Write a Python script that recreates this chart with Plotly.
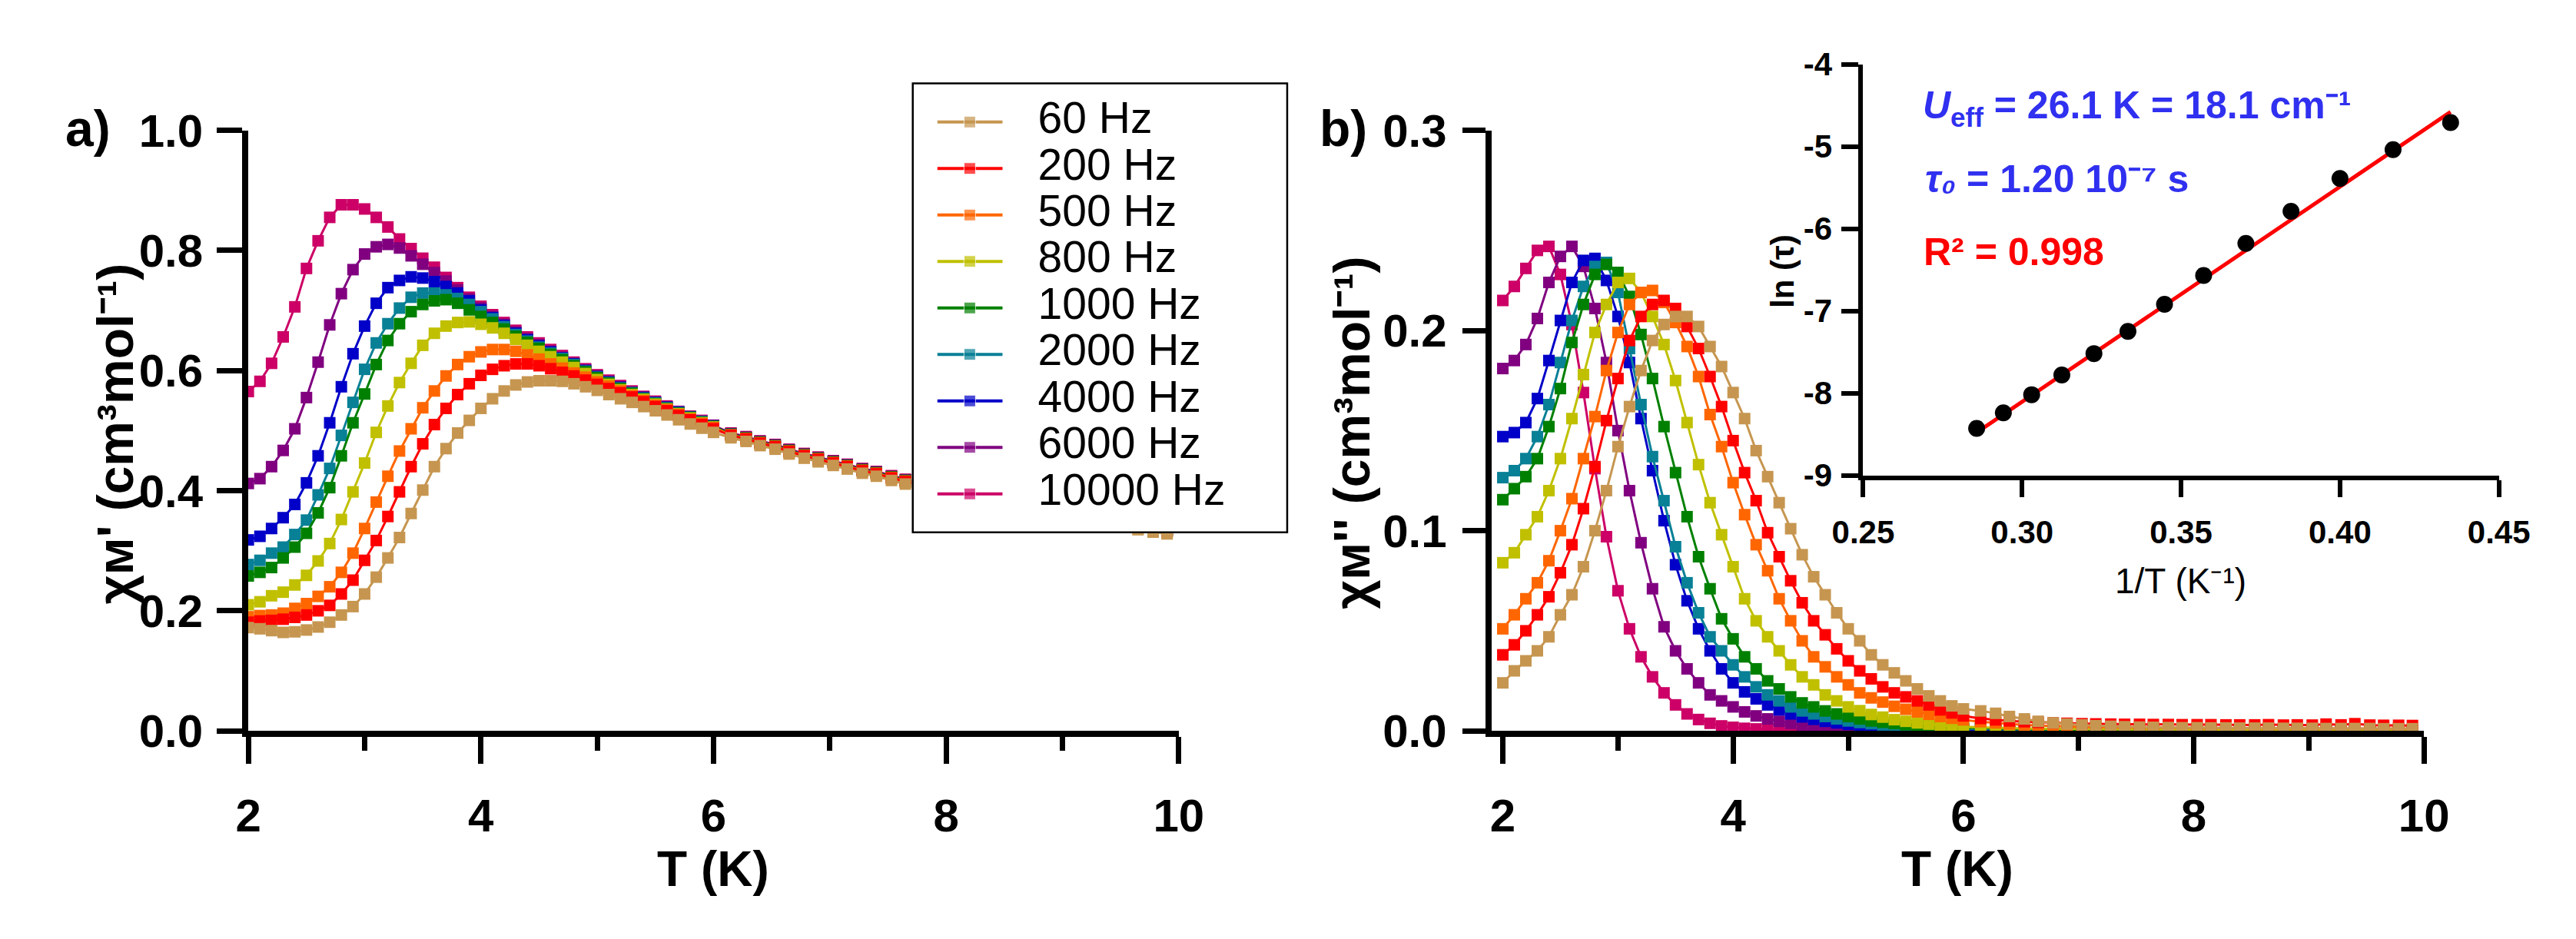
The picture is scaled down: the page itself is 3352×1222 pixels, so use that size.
import plotly.graph_objects as go

# ---------------- data ----------------
# temperature grid (K): 0.1 K steps up to 6 K, then ~0.125 K steps
temperature = [2.0, 2.1, 2.2, 2.3, 2.4, 2.5, 2.6, 2.7, 2.8, 2.9,
               3.0, 3.1, 3.2, 3.3, 3.4, 3.5, 3.6, 3.7, 3.8, 3.9,
               4.0, 4.1, 4.2, 4.3, 4.4, 4.5, 4.6, 4.7, 4.8, 4.9,
               5.0, 5.1, 5.2, 5.3, 5.4, 5.5, 5.6, 5.7, 5.8, 5.9,
               6.0,
               6.15, 6.28, 6.4, 6.53, 6.65, 6.78, 6.9, 7.03, 7.15, 7.28,
               7.4, 7.53, 7.65, 7.78, 7.9, 8.03, 8.15, 8.28, 8.4, 8.53,
               8.65, 8.78, 8.9, 9.03, 9.15, 9.28, 9.4, 9.53, 9.65, 9.78, 9.9]

freq_labels = ['60 Hz', '200 Hz', '500 Hz', '800 Hz', '1000 Hz',
               '2000 Hz', '4000 Hz', '6000 Hz', '10000 Hz']
freq_colors = ['#C69650', '#FF0000', '#FF6600', '#C0C000', '#008000',
               '#088096', '#0000C8', '#800080', '#CC0066']

# a) in-phase chi' (cm3 mol-1)
chi1_60 = [0.172, 0.170, 0.167, 0.164, 0.165, 0.168, 0.173, 0.181, 0.193, 0.207,
           0.228, 0.256, 0.288, 0.322, 0.362, 0.401, 0.440, 0.470, 0.496, 0.517,
           0.537, 0.553, 0.566, 0.576, 0.581, 0.583, 0.583, 0.582, 0.578, 0.573,
           0.567, 0.560, 0.553, 0.547, 0.540, 0.533, 0.526, 0.518, 0.511, 0.504,
           0.497,
           0.488, 0.482, 0.475, 0.469, 0.461, 0.454, 0.448, 0.442, 0.436, 0.429,
           0.424, 0.417, 0.411, 0.405, 0.399, 0.394, 0.388, 0.383, 0.378, 0.373,
           0.368, 0.364, 0.359, 0.355, 0.351, 0.347, 0.343, 0.339, 0.335, 0.331, 0.328]
chi1_200 = [0.181, 0.183, 0.184, 0.186, 0.189, 0.193, 0.200, 0.209, 0.228, 0.251,
            0.284, 0.317, 0.357, 0.398, 0.440, 0.478, 0.510, 0.537, 0.560, 0.578,
            0.592, 0.602, 0.608, 0.611, 0.611, 0.608, 0.603, 0.597, 0.591, 0.584,
            0.577, 0.570, 0.563, 0.556, 0.548, 0.540, 0.533, 0.525, 0.518, 0.510,
            0.503,
            0.492, 0.486, 0.479, 0.473, 0.465, 0.458, 0.452, 0.446, 0.440, 0.433,
            0.428, 0.421, 0.415, 0.409, 0.403, 0.398, 0.392, 0.387, 0.382, 0.377,
            0.372, 0.368, 0.363, 0.359, 0.355, 0.351, 0.347, 0.343, 0.339, 0.335, 0.332]
chi1_500 = [0.190, 0.192, 0.193, 0.196, 0.204, 0.212, 0.224, 0.240, 0.264, 0.296,
            0.337, 0.381, 0.424, 0.466, 0.503, 0.538, 0.566, 0.591, 0.610, 0.623,
            0.631, 0.635, 0.635, 0.632, 0.626, 0.619, 0.611, 0.604, 0.596, 0.589,
            0.581, 0.574, 0.566, 0.558, 0.550, 0.542, 0.535, 0.527, 0.519, 0.512,
            0.505,
            0.493, 0.487, 0.480, 0.474, 0.466, 0.459, 0.453, 0.447, 0.441, 0.434,
            0.429, 0.422, 0.416, 0.410, 0.404, 0.399, 0.393, 0.388, 0.383, 0.378,
            0.373, 0.369, 0.364, 0.360, 0.356, 0.352, 0.348, 0.344, 0.340, 0.336, 0.333]
chi1_800 = [0.210, 0.215, 0.225, 0.231, 0.243, 0.259, 0.283, 0.312, 0.352, 0.398,
            0.446, 0.497, 0.541, 0.580, 0.612, 0.642, 0.662, 0.674, 0.680, 0.681,
            0.677, 0.671, 0.662, 0.652, 0.642, 0.632, 0.623, 0.614, 0.605, 0.595,
            0.585, 0.577, 0.568, 0.560, 0.552, 0.544, 0.536, 0.528, 0.521, 0.513,
            0.506,
            0.491, 0.485, 0.478, 0.472, 0.464, 0.457, 0.451, 0.445, 0.439, 0.432,
            0.427, 0.420, 0.414, 0.408, 0.402, 0.397, 0.391, 0.386, 0.381, 0.376,
            0.371, 0.367, 0.362, 0.358, 0.354, 0.350, 0.346, 0.342, 0.337, 0.333, 0.330]
chi1_1000 = [0.258, 0.264, 0.272, 0.288, 0.306, 0.329, 0.363, 0.405, 0.458, 0.513,
             0.561, 0.610, 0.650, 0.678, 0.698, 0.710, 0.716, 0.718, 0.712, 0.701,
             0.690, 0.680, 0.669, 0.657, 0.647, 0.637, 0.627, 0.618, 0.608, 0.598,
             0.588, 0.579, 0.570, 0.562, 0.553, 0.545, 0.537, 0.529, 0.522, 0.514,
             0.507,
             0.494, 0.488, 0.481, 0.475, 0.467, 0.460, 0.454, 0.448, 0.442, 0.435,
             0.430, 0.423, 0.417, 0.411, 0.405, 0.400, 0.394, 0.389, 0.384, 0.379,
             0.374, 0.370, 0.365, 0.361, 0.357, 0.353, 0.349, 0.345, 0.341, 0.337, 0.334]
chi1_2000 = [0.277, 0.284, 0.296, 0.306, 0.327, 0.351, 0.393, 0.437, 0.492, 0.547,
             0.602, 0.646, 0.678, 0.704, 0.722, 0.729, 0.729, 0.726, 0.720, 0.710,
             0.698, 0.686, 0.673, 0.660, 0.649, 0.639, 0.629, 0.620, 0.610, 0.599,
             0.589, 0.580, 0.571, 0.563, 0.554, 0.546, 0.538, 0.530, 0.522, 0.515,
             0.507,
             0.493, 0.487, 0.480, 0.474, 0.466, 0.459, 0.453, 0.447, 0.441, 0.434,
             0.429, 0.422, 0.416, 0.410, 0.404, 0.399, 0.393, 0.388, 0.383, 0.378,
             0.373, 0.369, 0.364, 0.360, 0.356, 0.352, 0.348, 0.344, 0.340, 0.336, 0.333]
chi1_4000 = [0.318, 0.324, 0.337, 0.355, 0.377, 0.413, 0.458, 0.513, 0.573, 0.628,
             0.674, 0.712, 0.738, 0.750, 0.756, 0.754, 0.748, 0.740, 0.729, 0.716,
             0.701, 0.688, 0.675, 0.662, 0.651, 0.641, 0.631, 0.621, 0.611, 0.600,
             0.590, 0.581, 0.572, 0.563, 0.555, 0.547, 0.539, 0.531, 0.523, 0.515,
             0.508,
             0.494, 0.488, 0.481, 0.475, 0.467, 0.460, 0.454, 0.448, 0.442, 0.435,
             0.430, 0.423, 0.417, 0.411, 0.405, 0.400, 0.394, 0.389, 0.384, 0.379,
             0.374, 0.370, 0.365, 0.361, 0.357, 0.353, 0.349, 0.345, 0.341, 0.337, 0.334]
chi1_6000 = [0.412, 0.420, 0.440, 0.467, 0.503, 0.555, 0.614, 0.676, 0.728, 0.768,
             0.794, 0.806, 0.810, 0.804, 0.791, 0.777, 0.763, 0.749, 0.734, 0.719,
             0.704, 0.690, 0.677, 0.664, 0.653, 0.643, 0.632, 0.622, 0.612, 0.601,
             0.591, 0.582, 0.573, 0.564, 0.556, 0.547, 0.539, 0.531, 0.523, 0.516,
             0.508,
             0.495, 0.489, 0.482, 0.476, 0.468, 0.461, 0.455, 0.449, 0.443, 0.436,
             0.431, 0.424, 0.418, 0.412, 0.406, 0.401, 0.395, 0.390, 0.385, 0.380,
             0.375, 0.371, 0.366, 0.362, 0.358, 0.354, 0.350, 0.346, 0.342, 0.338, 0.335]
chi1_10000 = [0.565, 0.582, 0.612, 0.656, 0.706, 0.770, 0.816, 0.855, 0.876, 0.876,
              0.869, 0.855, 0.839, 0.819, 0.803, 0.787, 0.772, 0.755, 0.738, 0.722,
              0.707, 0.693, 0.680, 0.667, 0.656, 0.646, 0.635, 0.625, 0.614, 0.603,
              0.593, 0.584, 0.575, 0.566, 0.557, 0.549, 0.541, 0.532, 0.524, 0.517,
              0.509,
              0.496, 0.490, 0.483, 0.477, 0.469, 0.462, 0.456, 0.450, 0.444, 0.437,
              0.432, 0.425, 0.419, 0.413, 0.407, 0.402, 0.396, 0.391, 0.386, 0.381,
              0.376, 0.372, 0.367, 0.363, 0.359, 0.355, 0.351, 0.347, 0.343, 0.339, 0.336]

# b) out-of-phase chi'' (cm3 mol-1)
chi2_60 = [0.024, 0.030, 0.035, 0.040, 0.047, 0.058, 0.068, 0.082, 0.100, 0.120,
           0.142, 0.162, 0.180, 0.195, 0.203, 0.207, 0.207, 0.202, 0.192, 0.182,
           0.169, 0.156, 0.140, 0.127, 0.114, 0.101, 0.088, 0.077, 0.068, 0.059,
           0.051, 0.045, 0.038, 0.033, 0.029, 0.025, 0.021, 0.0175, 0.015, 0.0125,
           0.011,
           0.0100, 0.0088, 0.0072, 0.0060, 0.0048, 0.0040, 0.0034, 0.0030, 0.0026, 0.0023,
           0.0021, 0.0019, 0.0018, 0.0017, 0.0016, 0.0016, 0.0015, 0.0015, 0.0014, 0.0014,
           0.0014, 0.0013, 0.0013, 0.0013, 0.0012, 0.0012, 0.0012, 0.0012, 0.0011, 0.0011, 0.0011]
chi2_200 = [0.038, 0.043, 0.050, 0.058, 0.067, 0.079, 0.093, 0.111, 0.132, 0.155,
            0.176, 0.195, 0.207, 0.213, 0.215, 0.211, 0.202, 0.191, 0.177, 0.162,
            0.145, 0.129, 0.115, 0.099, 0.087, 0.075, 0.064, 0.055, 0.048, 0.041,
            0.035, 0.030, 0.026, 0.022, 0.019, 0.017, 0.015, 0.013, 0.0105, 0.009,
            0.0075,
            0.0062, 0.0055, 0.0050, 0.0046, 0.0043, 0.0040, 0.0038, 0.0036, 0.0035, 0.0034,
            0.0033, 0.0033, 0.0032, 0.0032, 0.0031, 0.0031, 0.0031, 0.0030, 0.0030, 0.0030,
            0.0031, 0.0029, 0.0030, 0.0029, 0.0034, 0.0030, 0.0036, 0.0029, 0.0028, 0.0028, 0.0027]
chi2_500 = [0.051, 0.058, 0.066, 0.074, 0.085, 0.100, 0.116, 0.136, 0.157, 0.180,
            0.199, 0.213, 0.219, 0.220, 0.214, 0.204, 0.192, 0.177, 0.158, 0.142,
            0.124, 0.108, 0.093, 0.080, 0.066, 0.055, 0.045, 0.037, 0.032, 0.027,
            0.023, 0.019, 0.0165, 0.0144, 0.0123, 0.0108, 0.0095, 0.0083, 0.0072, 0.0063,
            0.0055,
            0.0046, 0.0040, 0.0034, 0.0030, 0.0027, 0.0024, 0.0022, 0.0020, 0.0019, 0.0018,
            0.0017, 0.0016, 0.0016, 0.0015, 0.0015, 0.0014, 0.0014, 0.0014, 0.0013, 0.0013,
            0.0013, 0.0013, 0.0012, 0.0012, 0.0012, 0.0012, 0.0011, 0.0011, 0.0011, 0.0011, 0.0011]
chi2_800 = [0.084, 0.089, 0.098, 0.107, 0.120, 0.136, 0.156, 0.178, 0.199, 0.213,
            0.224, 0.226, 0.219, 0.207, 0.193, 0.175, 0.154, 0.133, 0.114, 0.098,
            0.082, 0.066, 0.055, 0.047, 0.040, 0.033, 0.027, 0.023, 0.018, 0.015,
            0.012, 0.0101, 0.0082, 0.0069, 0.0056, 0.0048, 0.0040, 0.0034, 0.0029, 0.0025,
            0.0021,
            0.0018, 0.0015, 0.0013, 0.0012, 0.0011, 0.0010, 0.0009, 0.0009, 0.0008, 0.0008,
            0.0008, 0.0007, 0.0007, 0.0007, 0.0007, 0.0006, 0.0006, 0.0006, 0.0006, 0.0006,
            0.0005, 0.0005, 0.0005, 0.0005, 0.0005, 0.0005, 0.0004, 0.0004, 0.0004, 0.0004, 0.0004]
chi2_1000 = [0.1155, 0.121, 0.127, 0.136, 0.152, 0.171, 0.194, 0.213, 0.228, 0.233,
             0.229, 0.217, 0.198, 0.176, 0.152, 0.129, 0.107, 0.087, 0.071, 0.056,
             0.046, 0.037, 0.031, 0.025, 0.021, 0.017, 0.014, 0.012, 0.010, 0.0085,
             0.0072, 0.0060, 0.0050, 0.0043, 0.0037, 0.0031, 0.0027, 0.0023, 0.0020, 0.0018,
             0.0016,
             0.0014, 0.0012, 0.0010, 0.0009, 0.0008, 0.0007, 0.0007, 0.0006, 0.0006, 0.0005,
             0.0005, 0.0005, 0.0004, 0.0004, 0.0004, 0.0004, 0.0003, 0.0003, 0.0003, 0.0003,
             0.0003, 0.0003, 0.0002, 0.0002, 0.0002, 0.0002, 0.0002, 0.0002, 0.0002, 0.0002, 0.0002]
chi2_2000 = [0.1265, 0.130, 0.136, 0.147, 0.163, 0.184, 0.205, 0.222, 0.232, 0.234,
             0.219, 0.191, 0.163, 0.137, 0.115, 0.092, 0.074, 0.059, 0.047, 0.040,
             0.033, 0.027, 0.022, 0.018, 0.015, 0.012, 0.010, 0.0085, 0.0072, 0.0060,
             0.0050, 0.0042, 0.0036, 0.0030, 0.0026, 0.0022, 0.0019, 0.0016, 0.0014, 0.0012,
             0.0010,
             0.0009, 0.0008, 0.0007, 0.0006, 0.0006, 0.0005, 0.0005, 0.0004, 0.0004, 0.0004,
             0.0003, 0.0003, 0.0003, 0.0003, 0.0003, 0.0002, 0.0002, 0.0002, 0.0002, 0.0002,
             0.0002, 0.0002, 0.0001, 0.0001, 0.0001, 0.0001, 0.0001, 0.0001, 0.0001, 0.0001, 0.0001]
chi2_4000 = [0.147, 0.149, 0.154, 0.166, 0.185, 0.205, 0.224, 0.235, 0.236, 0.225,
             0.207, 0.184, 0.156, 0.130, 0.105, 0.083, 0.065, 0.051, 0.040, 0.031,
             0.024, 0.0195, 0.016, 0.013, 0.0105, 0.0085, 0.0070, 0.0058, 0.0048, 0.0040,
             0.0033, 0.0028, 0.0023, 0.0020, 0.0017, 0.0014, 0.0012, 0.0010, 0.0009, 0.0008,
             0.0007,
             0.0006, 0.0005, 0.0005, 0.0004, 0.0004, 0.0003, 0.0003, 0.0003, 0.0002, 0.0002,
             0.0002, 0.0002, 0.0002, 0.0001, 0.0001, 0.0001, 0.0001, 0.0001, 0.0001, 0.0001,
             0.0001, 0.0, 0.0, 0.0, 0.0, 0.0, 0.0, 0.0, 0.0, 0.0, 0.0]
chi2_6000 = [0.181, 0.185, 0.193, 0.206, 0.224, 0.237, 0.242, 0.232, 0.211, 0.184,
             0.150, 0.120, 0.094, 0.071, 0.052, 0.040, 0.031, 0.024, 0.018, 0.015,
             0.012, 0.0095, 0.0075, 0.0060, 0.0048, 0.0038, 0.0030, 0.0025, 0.0020, 0.0016,
             0.0013, 0.0011, 0.0009, 0.0008, 0.0007, 0.0006, 0.0005, 0.0004, 0.0004, 0.0003,
             0.0003,
             0.0003, 0.0003, 0.0002, 0.0002, 0.0002, 0.0002, 0.0001, 0.0001, 0.0001, 0.0001,
             0.0001, 0.0001, 0.0001, 0.0001, 0.0, 0.0, 0.0, 0.0, 0.0, 0.0,
             0.0, 0.0, 0.0, 0.0, 0.0, 0.0, 0.0, 0.0, 0.0, 0.0, 0.0]
chi2_10000 = [0.215, 0.222, 0.231, 0.240, 0.242, 0.228, 0.203, 0.169, 0.131, 0.097,
              0.070, 0.051, 0.037, 0.027, 0.019, 0.013, 0.0085, 0.0057, 0.0038, 0.0025,
              0.0018, 0.0013, 0.0010, 0.0008, 0.0007, 0.0006, 0.0005, 0.0005, 0.0004, 0.0004,
              0.0003, 0.0003, 0.0003, 0.0002, 0.0002, 0.0002, 0.0002, 0.0001, 0.0001, 0.0001,
              0.0001,
              0.0001, 0.0001, 0.0001, 0.0, 0.0, 0.0, 0.0, 0.0, 0.0, 0.0,
              0.0, 0.0, 0.0, 0.0, 0.0, 0.0, 0.0, 0.0, 0.0, 0.0,
              0.0, 0.0, 0.0, 0.0, 0.0, 0.0, 0.0, 0.0, 0.0, 0.0, 0.0]

# inset: Arrhenius plot
inv_T = [0.2857, 0.2941, 0.3030, 0.3125, 0.3226, 0.3333, 0.3448,
         0.3571, 0.3704, 0.3846, 0.4000, 0.4167, 0.4348]
ln_tau = [-8.43, -8.24, -8.02, -7.78, -7.52, -7.25, -6.92,
          -6.57, -6.18, -5.79, -5.39, -5.04, -4.71]
fit_inv_T = [0.2857, 0.4348]
fit_ln_tau = [-8.48, -4.58]

in_phase = [chi1_60, chi1_200, chi1_500, chi1_800, chi1_1000,
            chi1_2000, chi1_4000, chi1_6000, chi1_10000]
out_phase = [chi2_60, chi2_200, chi2_500, chi2_800, chi2_1000,
             chi2_2000, chi2_4000, chi2_6000, chi2_10000]
for s in in_phase + out_phase:
    assert len(s) == len(temperature), len(s)

# ---------------- layout helpers ----------------
W, H = 3352, 1222
FONT = 'Liberation Sans, Arial, sans-serif'


def fx(p):
    return p / W


def fy(p):
    return 1 - p / H


fig = go.Figure()

# highest frequency first so that 60 Hz ends up on top, like the original
for i in reversed(range(len(freq_labels))):
    for vals, xa, ya in ((in_phase[i], 'x', 'y'), (out_phase[i], 'x2', 'y2')):
        fig.add_trace(go.Scatter(
            x=temperature, y=vals, xaxis=xa, yaxis=ya,
            mode='lines+markers', name=freq_labels[i],
            line=dict(color=freq_colors[i], width=3),
            marker=dict(symbol='square', size=15, color=freq_colors[i]),
            cliponaxis=False, hoverinfo='skip'))

# inset fit + points
fig.add_trace(go.Scatter(x=fit_inv_T, y=fit_ln_tau, xaxis='x3', yaxis='y3',
                         mode='lines', line=dict(color='#FF0000', width=5),
                         hoverinfo='skip'))
fig.add_trace(go.Scatter(x=inv_T, y=ln_tau, xaxis='x3', yaxis='y3',
                         mode='markers', marker=dict(color='black', size=22),
                         cliponaxis=False, hoverinfo='skip'))

# hand-made legend on its own hidden axes (rows = frequency index)
for i, (lab, col) in enumerate(zip(freq_labels, freq_colors)):
    fig.add_trace(go.Scatter(
        x=[0.068, 0.154, 0.241], y=[i, i, i], xaxis='x4', yaxis='y4',
        mode='lines+markers', line=dict(color=col, width=4),
        marker=dict(symbol='square', size=[0, 15, 0], color=col),
        cliponaxis=False, hoverinfo='skip'))
fig.add_trace(go.Scatter(
    x=[0.335] * len(freq_labels), y=list(range(len(freq_labels))),
    text=freq_labels, mode='text', textposition='middle right',
    textfont=dict(family=FONT, size=57, color='black'),
    xaxis='x4', yaxis='y4', cliponaxis=False, hoverinfo='skip'))

leg_row0, leg_row_h = 124.6, 64.0
leg_top, leg_bot = (70 - leg_row0) / leg_row_h, (691 - leg_row0) / leg_row_h
fig.add_shape(type='rect', xref='x4', yref='y4', x0=0, x1=1, y0=leg_bot, y1=leg_top,
              line=dict(color='black', width=5), fillcolor='white', layer='below')

base = dict(showline=True, linecolor='black', showgrid=False, zeroline=False,
            ticks='outside', tickcolor='black')
big_tick = dict(family=FONT, size=60, color='black', weight='bold')
small_tick = dict(family=FONT, size=42, color='black', weight='bold')
minor_x = dict(dtick=1, ticks='outside', ticklen=18, tickwidth=7, tickcolor='black')

fig.update_layout(
    width=W, height=H, margin=dict(l=0, r=0, t=0, b=0),
    paper_bgcolor='white', plot_bgcolor='white', showlegend=False,
    xaxis=dict(domain=[fx(281), fx(1522)], range=[2, 10], anchor='y',
               tick0=2, dtick=2, linewidth=8, ticklen=35, tickwidth=7,
               tickfont=big_tick, ticklabelstandoff=16, minor=minor_x, **base),
    yaxis=dict(domain=[fy(963), fy(136)], range=[0, 1.0], anchor='x',
               dtick=0.2, tickformat='.1f', linewidth=8, ticklen=33, tickwidth=7,
               tickfont=big_tick, ticklabelstandoff=6, **base),
    xaxis2=dict(domain=[fx(1939), fx(3183)], range=[1.9, 10], anchor='y2',
                tick0=2, dtick=2, linewidth=8, ticklen=35, tickwidth=7,
                tickfont=big_tick, ticklabelstandoff=16, minor=minor_x, **base),
    yaxis2=dict(domain=[fy(963), fy(136)], range=[0, 0.3], anchor='x2',
                dtick=0.1, tickformat='.1f', linewidth=8, ticklen=30, tickwidth=7,
                tickfont=big_tick, ticklabelstandoff=8, **base),
    xaxis3=dict(domain=[fx(2435), fx(3283)], range=[0.25, 0.45], anchor='y3',
                dtick=0.05, tickformat='.2f', linewidth=6, ticklen=22, tickwidth=6,
                tickfont=small_tick, ticklabelstandoff=10, **base),
    yaxis3=dict(domain=[fy(611), fy(45)], range=[-9, -4], anchor='x3',
                tickvals=[-9, -8, -7, -6, -5, -4],
                ticktext=['-9', '-8', '-7', '-6', '-5', '-4'],
                linewidth=6, ticklen=22, tickwidth=6,
                tickfont=small_tick, ticklabelstandoff=4, **base),
    xaxis4=dict(domain=[fx(1166), fx(1668)], range=[0, 1], anchor='y4', visible=False),
    yaxis4=dict(domain=[fy(691), fy(70)], range=[leg_bot, leg_top], anchor='x4', visible=False),
)

bold = lambda s: dict(family=FONT, size=s, color='black', weight='bold')
blue = '#3030F0'
annotations = [
    dict(text='a)', x=fx(67), y=fy(133), font=bold(66)),
    dict(text='b)', x=fx(1742), y=fy(133), font=bold(66)),
    dict(text="χᴍ' (cm³mol⁻¹)", x=fx(103), y=fy(553),
         textangle=-90, font=bold(66)),
    dict(text="χᴍ'' (cm³mol⁻¹)", x=fx(1753), y=fy(553),
         textangle=-90, font=bold(66)),
    dict(text='T (K)', x=fx(901), y=fy(1153), font=bold(64)),
    dict(text='T (K)', x=fx(2561), y=fy(1153), font=bold(64)),
    dict(text='ln (τ)', x=fx(2328), y=fy(330), textangle=-90, font=bold(42)),
    dict(text='1/T (K⁻¹)', x=fx(2858), y=fy(757),
         font=dict(family=FONT, size=46, color='black')),
    dict(text='<i>U</i><sub>eff</sub> = 26.1 K = 18.1 cm⁻¹', x=fx(2512), y=fy(105),
         xanchor='left', font=dict(family=FONT, size=50, color=blue, weight='bold')),
    dict(text='<i>τ₀</i> = 1.20 10⁻⁷ s', x=fx(2516), y=fy(203),
         xanchor='left', font=dict(family=FONT, size=50, color=blue, weight='bold')),
    dict(text='R² = 0.998', x=fx(2513), y=fy(304),
         xanchor='left', font=dict(family=FONT, size=50, color='#FF0000', weight='bold')),
]
for a in annotations:
    a.setdefault('xanchor', 'center')
    a.setdefault('yanchor', 'middle')
    fig.add_annotation(xref='paper', yref='paper', showarrow=False, **a)

fig.write_html('out.html', config={'displayModeBar': False})
